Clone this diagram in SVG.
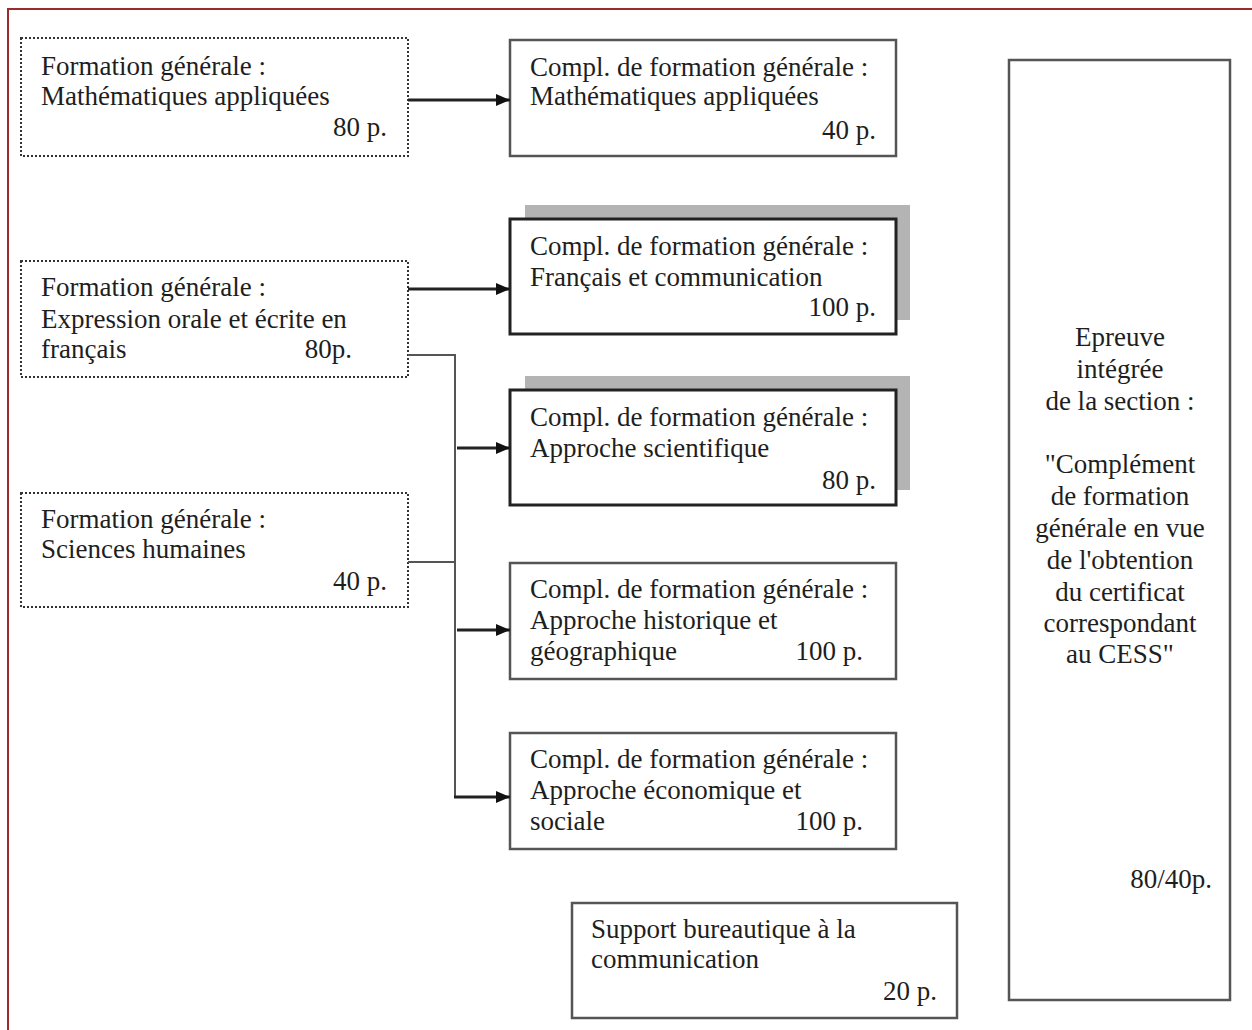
<svg xmlns="http://www.w3.org/2000/svg" width="1252" height="1030" viewBox="0 0 1252 1030">
<style>
  .t { font-family: "Liberation Serif", "Times New Roman", serif; font-size: 27px; fill: #1e1e1e; }
  .r { text-anchor: end; }
  .c { text-anchor: middle; }
  .dot { fill: #ffffff; stroke: #333333; stroke-width: 2; stroke-dasharray: 2 2; }
  .box { fill: #ffffff; stroke: #555555; stroke-width: 2.5; }
  .bold { fill: #ffffff; stroke: #222222; stroke-width: 3; }
  .shadow { fill: #b4b4b4; stroke: none; }
  .ln { fill: none; stroke: #555555; stroke-width: 2; }
  .arr { fill: none; stroke: #222222; stroke-width: 3; }
</style>
<defs>
  <marker id="ah" viewBox="0 0 14 12" refX="14" refY="6" markerWidth="14" markerHeight="12" markerUnits="userSpaceOnUse" orient="auto">
    <path d="M0,0 L14,6 L0,12 Z" fill="#111111"/>
  </marker>
</defs>
<rect x="0" y="0" width="1252" height="1030" fill="#ffffff"/>
<path d="M8,1030 L8,9 L1252,9" fill="none" stroke="#9b2c2c" stroke-width="2"/>

<g id="n-fg-math">
  <rect class="dot" x="21" y="38" width="387" height="118"/>
  <text class="t" x="41" y="75">Formation générale :</text>
  <text class="t" x="41" y="105">Mathématiques appliquées</text>
  <text class="t r" x="387" y="136">80 p.</text>
</g>
<g id="n-fg-expr">
  <rect class="dot" x="21" y="261" width="387" height="116"/>
  <text class="t" x="41" y="296">Formation générale :</text>
  <text class="t" x="41" y="328">Expression orale et écrite en</text>
  <text class="t" x="41" y="358">français</text>
  <text class="t r" x="352" y="358">80p.</text>
</g>
<g id="n-fg-sh">
  <rect class="dot" x="21" y="493" width="387" height="114"/>
  <text class="t" x="41" y="528">Formation générale :</text>
  <text class="t" x="41" y="558">Sciences humaines</text>
  <text class="t r" x="387" y="590">40 p.</text>
</g>

<g id="n-c-math">
  <rect class="box" x="510" y="40" width="386" height="116"/>
  <text class="t" x="530" y="76">Compl. de formation générale :</text>
  <text class="t" x="530" y="105">Mathématiques appliquées</text>
  <text class="t r" x="876" y="139">40 p.</text>
</g>
<g id="n-c-fr">
  <rect class="shadow" x="525" y="205" width="385" height="115"/>
  <rect class="bold" x="510" y="219" width="386" height="115"/>
  <text class="t" x="530" y="255">Compl. de formation générale :</text>
  <text class="t" x="530" y="286">Français et communication</text>
  <text class="t r" x="876" y="316">100 p.</text>
</g>
<g id="n-c-sci">
  <rect class="shadow" x="525" y="376" width="385" height="114"/>
  <rect class="bold" x="510" y="390" width="386" height="115"/>
  <text class="t" x="530" y="426">Compl. de formation générale :</text>
  <text class="t" x="530" y="457">Approche scientifique</text>
  <text class="t r" x="876" y="489">80 p.</text>
</g>
<g id="n-c-hist">
  <rect class="box" x="510" y="563" width="386" height="116"/>
  <text class="t" x="530" y="598">Compl. de formation générale :</text>
  <text class="t" x="530" y="629">Approche historique et</text>
  <text class="t" x="530" y="660">géographique</text>
  <text class="t r" x="863" y="660">100 p.</text>
</g>
<g id="n-c-eco">
  <rect class="box" x="510" y="733" width="386" height="116"/>
  <text class="t" x="530" y="768">Compl. de formation générale :</text>
  <text class="t" x="530" y="799">Approche économique et</text>
  <text class="t" x="530" y="830">sociale</text>
  <text class="t r" x="863" y="830">100 p.</text>
</g>
<g id="n-support">
  <rect class="box" x="572" y="903" width="385" height="115"/>
  <text class="t" x="591" y="938">Support bureautique à la</text>
  <text class="t" x="591" y="968">communication</text>
  <text class="t r" x="937" y="1000">20 p.</text>
</g>
<g id="n-epreuve">
  <rect class="box" x="1009" y="60" width="221" height="940"/>
  <text class="t c" x="1120" y="346">Epreuve</text>
  <text class="t c" x="1120" y="378">intégrée</text>
  <text class="t c" x="1120" y="410">de la section :</text>
  <text class="t c" x="1120" y="473">"Complément</text>
  <text class="t c" x="1120" y="505">de formation</text>
  <text class="t c" x="1120" y="537">générale en vue</text>
  <text class="t c" x="1120" y="569">de l'obtention</text>
  <text class="t c" x="1120" y="601">du certificat</text>
  <text class="t c" x="1120" y="632">correspondant</text>
  <text class="t c" x="1120" y="663">au CESS"</text>
  <text class="t r" x="1212" y="888">80/40p.</text>
</g>

<g id="connectors">
  <line class="arr" x1="408" y1="100" x2="510" y2="100" marker-end="url(#ah)"/>
  <line class="arr" x1="408" y1="289" x2="510" y2="289" marker-end="url(#ah)"/>
  <polyline class="ln" points="408,355 455,355 455,797"/>
  <line class="ln" x1="408" y1="562" x2="455" y2="562"/>
  <line class="arr" x1="457" y1="448" x2="510" y2="448" marker-end="url(#ah)"/>
  <line class="arr" x1="457" y1="630" x2="510" y2="630" marker-end="url(#ah)"/>
  <line class="arr" x1="454" y1="797" x2="510" y2="797" marker-end="url(#ah)"/>
</g>
</svg>
